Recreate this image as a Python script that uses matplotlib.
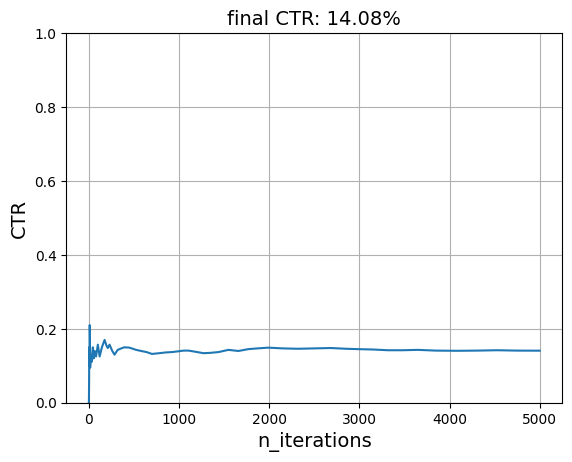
import matplotlib
matplotlib.use("Agg")
import matplotlib.pyplot as plt

# values (iteration, cumulative CTR)
n_iter = [0, 1, 3, 5, 8, 10, 12, 15, 20, 30, 45, 55, 65, 80, 100, 120, 145, 175, 195,
          210, 230, 260, 285, 320, 360, 395, 450, 525, 580, 640, 700, 780, 850, 920,
          988, 1050, 1105, 1180, 1270, 1350, 1437, 1547, 1658, 1768, 1870, 1989,
          2150, 2320, 2500, 2684, 2850, 2983, 3150, 3314, 3480, 3645, 3850, 4087,
          4300, 4529, 4750, 4999]
ctr = [0.0, 0.0, 0.06, 0.15, 0.10, 0.21, 0.18, 0.095, 0.13, 0.11, 0.15, 0.12, 0.14,
       0.125, 0.157, 0.125, 0.15, 0.17, 0.155, 0.148, 0.157, 0.14, 0.13, 0.143, 0.147,
       0.15, 0.149, 0.143, 0.14, 0.137, 0.132, 0.134, 0.136, 0.137, 0.139, 0.141,
       0.141, 0.138, 0.134, 0.135, 0.137, 0.143, 0.140, 0.145, 0.147, 0.149, 0.147,
       0.146, 0.147, 0.148, 0.146, 0.145, 0.144, 0.142, 0.142, 0.143, 0.141, 0.1405,
       0.141, 0.142, 0.141, 0.1408]

final_ctr = ctr[-1]

fig, ax = plt.subplots(figsize=(6.4, 4.8))
ax.plot(n_iter, ctr)
ax.set_ylim(0, 1)
ax.grid()
ax.set_title(f"final CTR: {final_ctr*100:.2f}%", fontsize=14)
ax.set_xlabel("n_iterations", fontsize=14)
ax.set_ylabel("CTR", fontsize=14)

fig.savefig("out.png", dpi=100, bbox_inches="tight")
